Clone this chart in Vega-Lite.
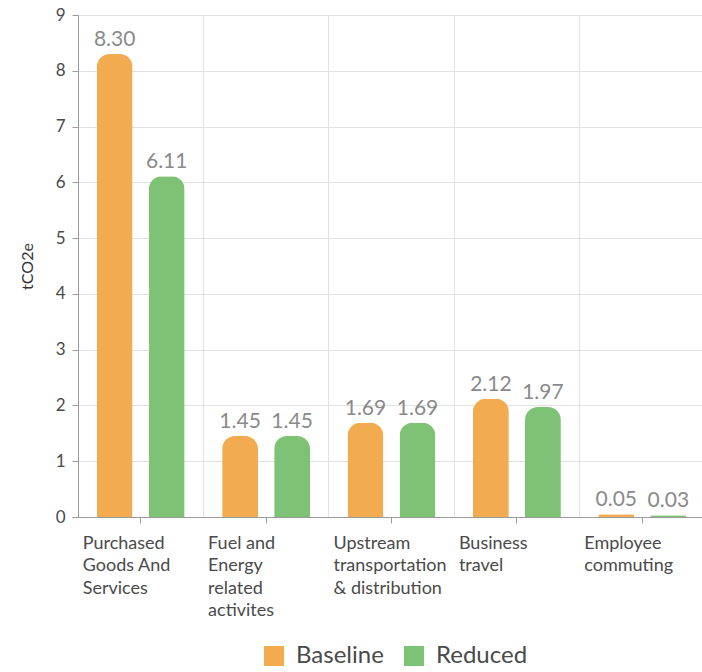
{
  "$schema": "https://vega.github.io/schema/vega-lite/v6.json",
  "autosize": "none",
  "padding": {"left": 78, "top": 15, "right": 0, "bottom": 155},
  "width": 627,
  "height": 502,
  "background": "white",
  "config": {
    "font": "Lato",
    "view": {"stroke": null}
  },
  "data": {
    "values": [
      {"category": "Purchased\nGoods And\nServices", "scenario": "Baseline", "value": 8.30},
      {"category": "Purchased\nGoods And\nServices", "scenario": "Reduced", "value": 6.11},
      {"category": "Fuel and\nEnergy\nrelated\nactivites", "scenario": "Baseline", "value": 1.45},
      {"category": "Fuel and\nEnergy\nrelated\nactivites", "scenario": "Reduced", "value": 1.45},
      {"category": "Upstream\ntransportation\n\u2005& distribution", "scenario": "Baseline", "value": 1.69},
      {"category": "Upstream\ntransportation\n\u2005& distribution", "scenario": "Reduced", "value": 1.69},
      {"category": "Business\ntravel", "scenario": "Baseline", "value": 2.12},
      {"category": "Business\ntravel", "scenario": "Reduced", "value": 1.97},
      {"category": "Employee\ncommuting", "scenario": "Baseline", "value": 0.05},
      {"category": "Employee\ncommuting", "scenario": "Reduced", "value": 0.03}
    ]
  },
  "encoding": {
    "xOffset": {
      "field": "scenario",
      "type": "nominal",
      "scale": {"paddingInner": 0.31, "paddingOuter": 0.36}
    },
    "y": {
      "field": "value",
      "type": "quantitative",
      "scale": {"domain": [0, 9], "nice": false},
      "axis": {
        "title": "tCO2e",
        "titleFont": "Lato",
        "titleFontSize": 16,
        "titleFontWeight": "normal",
        "titleColor": "#333333",
        "titlePadding": 20,
        "values": [0, 1, 2, 3, 4, 5, 6, 7, 8, 9],
        "labelOverlap": false,
        "labelFontSize": 17,
        "labelColor": "#4a4a4a",
        "labelPadding": 7,
        "tickSize": 6,
        "tickColor": "#9a9a9a",
        "domainColor": "#9a9a9a",
        "gridColor": "#e2e2e2"
      }
    }
  },
  "layer": [
    {
      "mark": {
        "type": "bar",
        "cornerRadiusTopLeft": 13,
        "cornerRadiusTopRight": 13
      },
      "encoding": {
        "x": {
          "field": "category",
          "type": "nominal",
          "sort": null,
          "title": null,
          "scale": {"paddingInner": 0, "paddingOuter": 0},
          "axis": {
            "orient": "bottom",
            "bandPosition": 0,
            "grid": true,
            "gridColor": "#e2e2e2",
            "ticks": false,
            "domainColor": "#9a9a9a",
            "labelAngle": 0,
            "labelAlign": "left",
            "labelBaseline": "top",
            "labelOffset": -58,
            "labelPadding": 17,
            "labelFontSize": 18,
            "labelLineHeight": 22.5,
            "labelColor": "#4a4a4a",
            "labelLimit": 200,
            "labelExpr": "split(datum.label, '\\n')"
          }
        },
        "color": {
          "field": "scenario",
          "type": "nominal",
          "scale": {"domain": ["Baseline", "Reduced"], "range": ["#F2AB4F", "#7EC275"]},
          "legend": {
            "orient": "none",
            "legendX": 184,
            "legendY": 629,
            "direction": "horizontal",
            "title": null,
            "symbolType": "square",
            "symbolSize": 400,
            "symbolOpacity": 1,
            "symbolStrokeWidth": 0,
            "labelFontSize": 24,
            "labelColor": "#4a4a4a",
            "labelOffset": 10,
            "columnPadding": 18
          }
        }
      }
    },
    {
      "mark": {"type": "text", "dy": -14, "fontSize": 21, "color": "#8a8a8a", "baseline": "middle"},
      "encoding": {
        "x": {
          "field": "category",
          "type": "nominal",
          "sort": null,
          "title": null,
          "axis": {
            "orient": "bottom",
            "grid": false,
            "labels": false,
            "domain": false,
            "ticks": true,
            "tickSize": 6,
            "tickColor": "#9a9a9a"
          }
        },
        "text": {"field": "value", "type": "quantitative", "format": ".2f"}
      }
    }
  ],
  "resolve": {"axis": {"x": "independent"}}
}
